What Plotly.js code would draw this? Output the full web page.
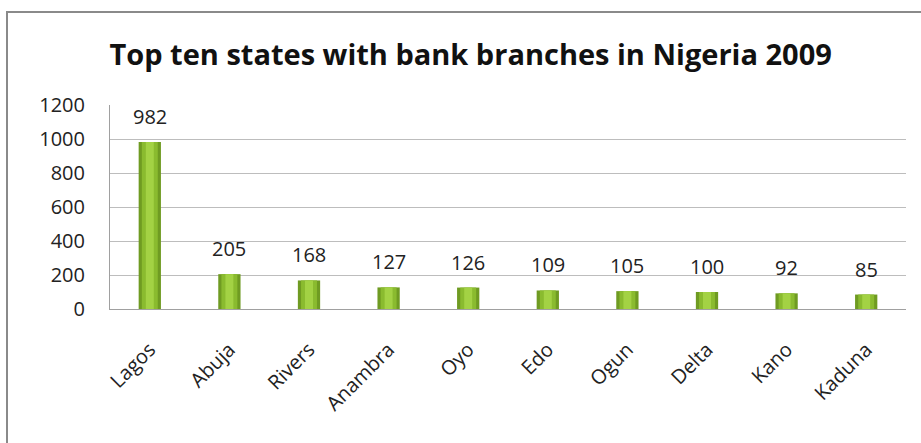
<!DOCTYPE html>
<html>
<head>
<meta charset="utf-8">
<script src="https://cdn.plot.ly/plotly-3.0.1.min.js"></script>
<style>
  html, body { margin: 0; padding: 0; background: #fff; }
  #wrap { position: relative; width: 921px; height: 443px; overflow: hidden; }
  #chart { position: absolute; left: 0; top: 0; width: 921px; height: 443px; }
  #frame { position: absolute; left: 6px; top: 11px; width: 930px; height: 450px;
           border-left: 2px solid #8a8a8a; border-top: 2px solid #8a8a8a; pointer-events: none; }
</style>
</head>
<body>
<div id="wrap">
  <div id="chart"></div>
  <div id="frame"></div>
</div>
<script>
const states = ["Lagos", "Abuja", "Rivers", "Anambra", "Oyo", "Edo", "Ogun", "Delta", "Kano", "Kaduna"];
const branches = [982, 205, 168, 127, 126, 109, 105, 100, 92, 85];
const yTicks = [0, 200, 400, 600, 800, 1000, 1200];
const chartTitle = "Top ten states with bank branches in Nigeria 2009";

const FONT = "Open Sans, Lato, sans-serif";

const outer = {
  type: "bar", x: states, y: branches, width: 0.28,
  marker: { color: "#6f9b22", line: { width: 0 } },
  hoverinfo: "x+y"
};
const mid = {
  type: "bar", x: states, y: branches, width: 0.2,
  marker: { color: "#8abb2f", line: { width: 0 } },
  hoverinfo: "skip"
};
const inner = {
  type: "bar", x: states, y: branches, width: 0.1,
  marker: { color: "#a3d244", line: { width: 0 } },
  hoverinfo: "skip"
};

const annotations = states.map((s, i) => ({
  x: s, y: branches[i], xref: "x", yref: "y",
  text: String(branches[i]), showarrow: false,
  yanchor: "bottom", yshift: 10,
  font: { family: FONT, size: 20, color: "#222" }
}));

const layout = {
  width: 921, height: 443,
  margin: { l: 110, r: 15, t: 105, b: 134 },
  paper_bgcolor: "#fff", plot_bgcolor: "#fff",
  barmode: "overlay",
  showlegend: false,
  title: {
    text: "<b>" + chartTitle + "</b>",
    font: { family: FONT, size: 29, color: "#111" },
    x: 0.511, xanchor: "center", y: 0.876, yanchor: "middle"
  },
  xaxis: {
    type: "category",
    tickangle: -45,
    tickfont: { family: FONT, size: 20, color: "#222" },
    showline: true, linecolor: "#a0a0a0", linewidth: 1,
    ticks: "", ticklabelstandoff: 20,
    showgrid: false, zeroline: false
  },
  yaxis: {
    range: [0, 1200],
    tickvals: yTicks,
    tickfont: { family: FONT, size: 20, color: "#222" },
    showline: true, linecolor: "#a0a0a0", linewidth: 1,
    showgrid: true, gridcolor: "#bdbdbd", gridwidth: 1,
    zeroline: false, ticks: "", ticklabelstandoff: 20
  },
  annotations: annotations
};

Plotly.newPlot("chart", [outer, mid, inner], layout, { displayModeBar: false, staticPlot: true });
</script>
</body>
</html>
